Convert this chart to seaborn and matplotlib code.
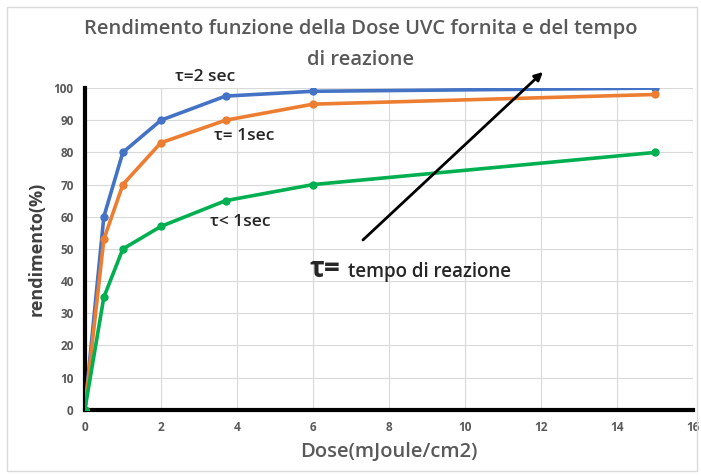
import pandas as pd
import matplotlib
matplotlib.use('Agg')
import matplotlib.pyplot as plt
import seaborn as sns
from matplotlib.patches import Rectangle

# data
dose = [0, 0.5, 1, 2, 3.7, 6, 15]
tau_2sec = [0, 60, 80, 90, 97.5, 99, 100]
tau_1sec = [0, 53, 70, 83, 90, 95, 98]
tau_lt1sec = [0, 35, 50, 57, 65, 70, 80]
series_names = ['τ=2 sec', 'τ= 1sec', 'τ< 1sec']
colors = ['#4472C4', '#ED7D31', '#00B050']

df = pd.DataFrame({
    'dose': dose * 3,
    'rendimento': tau_2sec + tau_1sec + tau_lt1sec,
    'serie': [s for s in series_names for _ in dose],
})

sns.set_style('white')
plt.rcParams['font.family'] = ['Open Sans', 'DejaVu Sans']

fig = plt.figure(figsize=(7.01, 4.76), dpi=100)
ax = fig.add_axes([0.121, 0.139, 0.868, 0.676])

sns.lineplot(data=df, x='dose', y='rendimento', hue='serie', palette=colors,
             marker='o', markersize=6, markeredgewidth=0, linewidth=2.6,
             legend=False, ax=ax, zorder=3)

ax.set_xlim(0, 16)
ax.set_ylim(0, 100)
ax.set_xticks(range(0, 17, 2))
ax.set_yticks(range(0, 101, 10))
ax.grid(True, color='#D9D9D9', linewidth=0.8)
for s in ['top', 'right']:
    ax.spines[s].set_visible(False)
for s in ['left', 'bottom']:
    ax.spines[s].set_color('black')
    ax.spines[s].set_linewidth(3)
ax.tick_params(axis='both', length=0, labelsize=8.5, labelcolor='#595959', pad=8)
for lab in ax.get_xticklabels() + ax.get_yticklabels():
    lab.set_fontweight('bold')

ax.set_xlabel('Dose(mJoule/cm2)', fontsize=14.5, color='#595959', fontweight='semibold', labelpad=6)
ax.set_ylabel('rendimento(%)', fontsize=13, color='#404040', fontweight='bold', labelpad=6)

fig.text(0.515, 0.94, 'Rendimento funzione della Dose UVC fornita e del tempo',
         ha='center', va='center', fontsize=14.5, color='#595959', fontweight='semibold')
fig.text(0.515, 0.874, 'di reazione', ha='center', va='center', fontsize=14.5,
         color='#595959', fontweight='semibold')

ax.text(3.16, 103.5, 'τ=2 sec', ha='center', va='center', fontsize=12.5,
        fontweight='semibold', clip_on=False)
ax.text(4.2, 85, 'τ= 1sec', ha='center', va='center', fontsize=12.5, fontweight='semibold')
ax.text(4.1, 58.4, 'τ< 1sec', ha='center', va='center', fontsize=12.5, fontweight='semibold')
ax.text(5.9, 41.2, 'τ=', ha='left', va='baseline', fontsize=20, fontweight='bold')
ax.text(6.92, 41.2, 'tempo di reazione', ha='left', va='baseline', fontsize=13.5,
        fontweight='semibold')

ax.annotate('', xy=(12.1, 105.6), xytext=(7.26, 52.2), annotation_clip=False,
            arrowprops=dict(arrowstyle='-|>', color='black', lw=2, mutation_scale=12))

fig.patches.append(Rectangle((0.01, 0.01), 0.985, 0.975, transform=fig.transFigure,
                             fill=False, edgecolor='#D9D9D9', linewidth=1))

fig.savefig('out.png', dpi=100)
